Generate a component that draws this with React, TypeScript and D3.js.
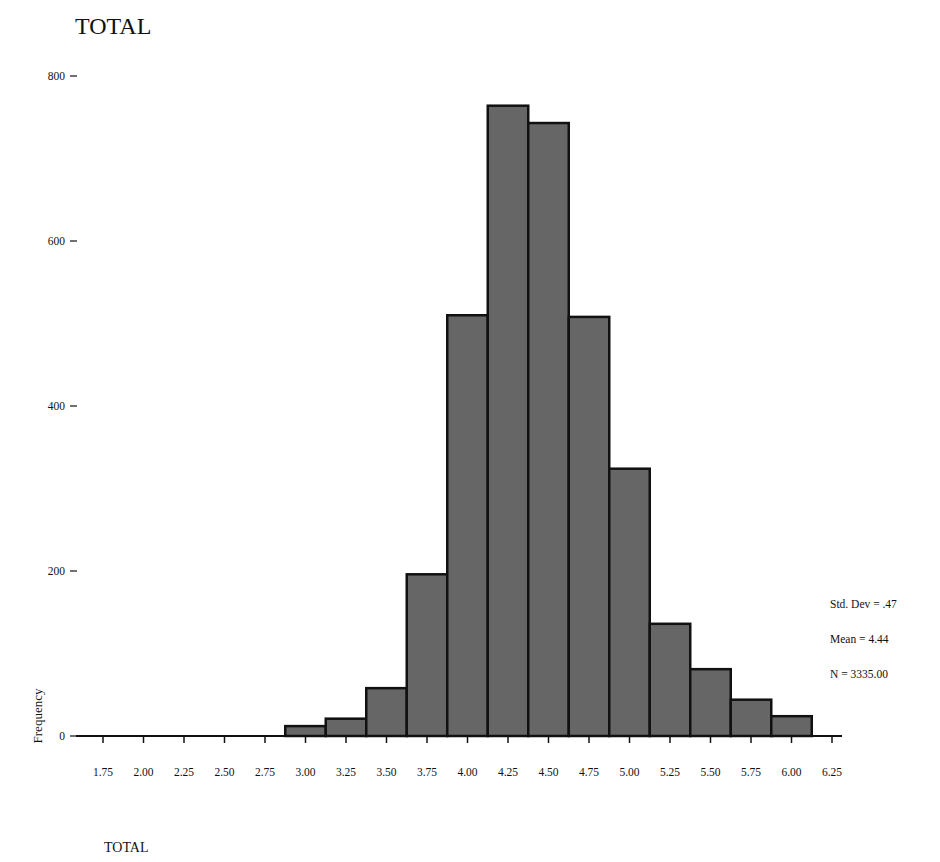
import React from "react";
import * as d3 from "d3";

const binCenters = [3.0, 3.25, 3.5, 3.75, 4.0, 4.25, 4.5, 4.75, 5.0, 5.25, 5.5, 5.75, 6.0];
const frequencies = [12, 21, 58, 196, 510, 764, 743, 508, 324, 136, 81, 44, 24];
const xTicks = [1.75, 2.0, 2.25, 2.5, 2.75, 3.0, 3.25, 3.5, 3.75, 4.0, 4.25, 4.5, 4.75, 5.0, 5.25, 5.5, 5.75, 6.0, 6.25];
const yTicks = [0, 200, 400, 600, 800];
const stats = ["Std. Dev = .47", "Mean = 4.44", "N = 3335.00"];
const binWidth = 0.25;

const W = 940;
const H = 862;
const font = "'Liberation Serif', 'DejaVu Serif', serif";

export default function App() {
  const x = d3.scaleLinear().domain([1.75, 6.25]).range([103, 832]);
  const y = d3.scaleLinear().domain([0, 800]).range([736, 76]);
  const base = y(0);

  return (
    <svg
      width={W}
      height={H}
      viewBox={`0 0 ${W} ${H}`}
      style={{ position: "absolute", left: 0, top: 0, background: "#fff" }}
    >
      <rect x={0} y={0} width={W} height={H} fill="#fff" />
      <text x={75} y={34} fontFamily={font} fontSize={24} fill="#111">TOTAL</text>

      {/* bars */}
      {binCenters.map((c, i) => {
        const x0 = x(c - binWidth / 2);
        const x1 = x(c + binWidth / 2);
        const yt = y(frequencies[i]);
        return (
          <rect
            key={i}
            x={x0}
            y={yt}
            width={x1 - x0}
            height={base - yt}
            fill="#666666"
            stroke="#111"
            strokeWidth={2.5}
          />
        );
      })}

      {/* x axis */}
      <line x1={76} x2={842} y1={base} y2={base} stroke="#111" strokeWidth={2} />
      {xTicks.map((t, i) => (
        <g key={i}>
          <line x1={x(t)} x2={x(t)} y1={base} y2={base + 7} stroke="#111" strokeWidth={1.5} />
          <text
            x={x(t)}
            y={base + 40}
            textAnchor="middle"
            fontFamily={font}
            fontSize={11.5}
            fill="#111"
          >
            {t.toFixed(2)}
          </text>
        </g>
      ))}

      {/* y ticks */}
      {yTicks.map((t, i) => (
        <g key={i}>
          <line x1={70} x2={77} y1={y(t)} y2={y(t)} stroke="#111" strokeWidth={1.2} />
          <text
            x={65}
            y={y(t) + 4}
            textAnchor="end"
            fontFamily={font}
            fontSize={11.5}
            fill="#111"
          >
            {t}
          </text>
        </g>
      ))}

      <text
        transform={`translate(42, 716) rotate(-90)`}
        textAnchor="middle"
        fontFamily={font}
        fontSize={13}
        fill="#111"
      >
        Frequency
      </text>

      {stats.map((s, i) => (
        <text key={i} x={830} y={608 + i * 35} fontFamily={font} fontSize={11.5} fill="#111">
          {s}
        </text>
      ))}

      <text x={104} y={852} fontFamily={font} fontSize={14} fill="#111">TOTAL</text>
    </svg>
  );
}
